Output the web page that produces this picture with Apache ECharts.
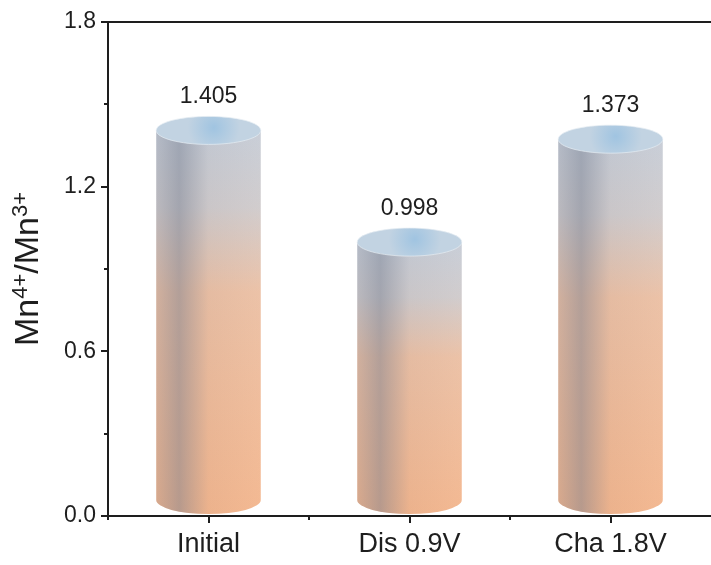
<!DOCTYPE html>
<html>
<head>
<meta charset="utf-8">
<script src="https://cdn.jsdelivr.net/npm/echarts@6/dist/echarts.min.js"></script>
<style>
  html, body { margin: 0; padding: 0; background: #fff; }
  #chart { width: 711px; height: 565px; }
</style>
</head>
<body>
<div id="chart"></div>
<script>
var categories = ['Initial', 'Dis 0.9V', 'Cha 1.8V'];
var ratios = [1.405, 0.998, 1.373];
var yMajor = [0, 0.6, 1.2, 1.8];
var yMinor = [0.3, 0.9, 1.5];

var FONT = '"Liberation Sans", Arial, sans-serif';
var INK = '#1e1e1e';

var chart = echarts.init(document.getElementById('chart'));

// cylinder: body + left shading + top ellipse + value text
function renderCylinder(params, api) {
  var idx = api.value(0);
  var val = api.value(1);
  var top = api.coord([idx, val]);
  var base = api.coord([idx, 0]);
  var w = api.size([1, 0])[0] * 0.52;
  var rx = w / 2, ry = 14;
  var cx = top[0], ty = top[1];
  var by = base[1] - ry - 2;
  var l = cx - rx, r = cx + rx;

  var d = 'M' + l + ' ' + ty + ' L' + l + ' ' + by +
    ' A' + rx + ' ' + ry + ' 0 0 0 ' + r + ' ' + by +
    ' L' + r + ' ' + ty + ' Z';

  var bodyFill = new echarts.graphic.LinearGradient(0, ty, 0, base[1], [
    { offset: 0, color: '#c6ccd6' },
    { offset: 0.2, color: '#cfcacb' },
    { offset: 0.42, color: '#ebbfa3' },
    { offset: 1, color: '#f3b58c' }
  ], true);
  var shade = new echarts.graphic.LinearGradient(l, 0, r, 0, [
    { offset: 0, color: 'rgba(110,120,140,0.2)' },
    { offset: 0.22, color: 'rgba(110,120,140,0.45)' },
    { offset: 0.5, color: 'rgba(110,120,140,0.05)' },
    { offset: 1, color: 'rgba(255,255,255,0.05)' }
  ], true);
  var capFill = new echarts.graphic.RadialGradient(0.55, 0.4, 0.9, [
    { offset: 0, color: '#a0c4e1' },
    { offset: 1, color: '#c2d3e2' }
  ]);

  return {
    type: 'group',
    children: [
      { type: 'path', shape: { pathData: d }, style: { fill: bodyFill } },
      { type: 'path', shape: { pathData: d }, style: { fill: shade } },
      {
        type: 'ellipse',
        shape: { cx: cx, cy: ty, rx: rx, ry: ry },
        style: { fill: capFill, stroke: 'rgba(230,236,242,0.7)', lineWidth: 1 }
      },
      {
        type: 'text',
        style: {
          text: val.toFixed(3),
          x: cx, y: ty - ry - 8,
          align: 'center', verticalAlign: 'bottom',
          fontFamily: FONT, fontSize: 23, fill: INK
        }
      }
    ]
  };
}

// outward tick marks, placed with the axes' own scales
function yTick(len) {
  return function (params, api) {
    var p = api.coord([0, api.value(1)]);
    var x0 = params.coordSys.x;
    return {
      type: 'rect',
      shape: { x: x0 - len, y: Math.round(p[1]) - 1, width: len, height: 2 },
      style: { fill: INK }
    };
  };
}
function xTick(len, shift) {
  return function (params, api) {
    var p = api.coord([api.value(0), 0]);
    var x = p[0] + shift * api.size([1, 0])[0];
    var y0 = params.coordSys.y + params.coordSys.height;
    return {
      type: 'rect',
      shape: { x: Math.round(x) - 1, y: y0, width: 2, height: len },
      style: { fill: INK }
    };
  };
}

function tickSeries(data, fn) {
  return {
    type: 'custom',
    silent: true,
    clip: false,
    zlevel: 1,
    z: 10,
    renderItem: fn,
    encode: { x: 0, y: 1 },
    data: data
  };
}

var option = {
  animation: false,
  grid: { left: 108, right: -9, top: 22, bottom: 49 },
  xAxis: [
    {
      type: 'category',
      data: categories,
      position: 'bottom',
      axisLine: { show: true, lineStyle: { color: INK, width: 2 } },
      axisTick: { show: false },
      axisLabel: {
        color: INK, fontFamily: FONT, fontSize: 27, margin: 15,
        textBorderWidth: 0, backgroundColor: 'transparent'
      }
    },
    {
      type: 'category',
      data: categories,
      position: 'top',
      axisLine: { show: true, lineStyle: { color: INK, width: 2 } },
      axisTick: { show: false },
      axisLabel: { show: false }
    }
  ],
  yAxis: {
    type: 'value',
    min: yMajor[0],
    max: yMajor[yMajor.length - 1],
    interval: 0.6,
    name: '{a|Mn}{s|4+}{a|/Mn}{s|3+}',
    nameLocation: 'middle',
    nameGap: 60,
    nameRotate: 90,
    nameTextStyle: {
      rich: {
        a: { fontFamily: FONT, fontSize: 34, color: INK, lineHeight: 38 },
        s: { fontFamily: FONT, fontSize: 22, color: INK, verticalAlign: 'top', lineHeight: 38 }
      }
    },
    axisLine: { show: true, lineStyle: { color: INK, width: 2 } },
    axisTick: { show: false },
    splitLine: { show: false },
    axisLabel: {
      color: INK, fontFamily: FONT, fontSize: 23, margin: 12,
      textBorderWidth: 0, backgroundColor: 'transparent',
      formatter: function (v) { return v.toFixed(1); }
    }
  },
  series: [
    {
      type: 'custom',
      renderItem: renderCylinder,
      encode: { x: 0, y: 1 },
      data: categories.map(function (c, i) { return [i, ratios[i]]; }),
      clip: false
    },
    tickSeries(yMajor.map(function (v) { return [0, v]; }), yTick(7)),
    tickSeries(yMinor.map(function (v) { return [0, v]; }), yTick(4)),
    tickSeries(categories.map(function (c, i) { return [i, 0]; }), xTick(7, 0)),
    tickSeries(categories.map(function (c, i) { return [i, 0]; }), xTick(4, -0.5))
  ]
};

chart.setOption(option);
</script>
</body>
</html>
